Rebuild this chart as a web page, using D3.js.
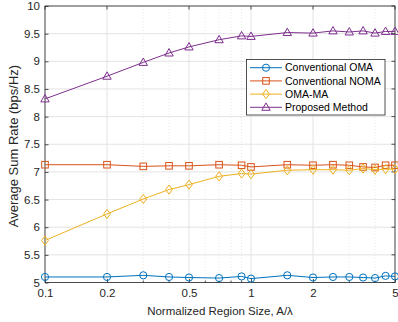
<!DOCTYPE html>
<html>
<head>
<meta charset="utf-8">
<script src="https://cdn.jsdelivr.net/npm/d3@7"></script>
<style>
  html, body { margin: 0; padding: 0; background: #fff; }
  svg { display: block; font-family: "Liberation Sans", Arial, sans-serif; }
</style>
</head>
<body>
<svg id="chart" width="398" height="322"></svg>
<script>
// Data
const regionSize = [0.1, 0.2, 0.3, 0.4, 0.5, 0.7, 0.9, 1, 1.5, 2, 2.5, 3, 3.5, 4, 4.5, 5];
const omaRate      = [5.10, 5.10, 5.13, 5.10, 5.09, 5.08, 5.11, 5.07, 5.13, 5.09, 5.10, 5.10, 5.09, 5.08, 5.12, 5.11];
const nomaRate     = [7.13, 7.13, 7.10, 7.11, 7.11, 7.13, 7.12, 7.09, 7.13, 7.12, 7.13, 7.12, 7.09, 7.08, 7.12, 7.12];
const omaMaRate    = [5.76, 6.24, 6.51, 6.68, 6.77, 6.92, 6.97, 6.96, 7.03, 7.04, 7.04, 7.03, 7.06, 7.04, 7.05, 7.05];
const proposedRate = [8.32, 8.73, 8.98, 9.15, 9.26, 9.39, 9.46, 9.45, 9.52, 9.51, 9.55, 9.53, 9.55, 9.51, 9.54, 9.54];
const seriesNames  = ['Conventional OMA', 'Conventional NOMA', 'OMA-MA', 'Proposed Method'];
const xTicks = [0.1, 0.2, 0.5, 1, 2, 5];
const xMinorTicks = [0.3, 0.4, 0.6, 0.7, 0.8, 0.9, 3, 4];
const yTicks = d3.range(5, 10.01, 0.5);

const series = [
  { name: seriesNames[0], values: omaRate, color: '#0072BD', marker: 'circle' },
  { name: seriesNames[1], values: nomaRate, color: '#D95319', marker: 'square' },
  { name: seriesNames[2], values: omaMaRate, color: '#EDB120', marker: 'diamond' },
  { name: seriesNames[3], values: proposedRate, color: '#7E2F8E', marker: 'triangle' }
];

const plot = { left: 45, right: 395, top: 6, bottom: 282.5 };
const svg = d3.select('#chart');

const x = d3.scaleLog().domain([0.1, 5]).range([plot.left, plot.right]);
const y = d3.scaleLinear().domain([5, 10]).range([plot.bottom, plot.top]);

// grid
const grid = svg.append('g');
grid.selectAll('line.minor')
  .data(xMinorTicks)
  .enter().append('line')
  .attr('x1', d => x(d)).attr('x2', d => x(d))
  .attr('y1', plot.top).attr('y2', plot.bottom)
  .attr('stroke', '#d9d9d9').attr('stroke-width', 0.6)
  .attr('stroke-dasharray', '1,2');
grid.selectAll('line.vx')
  .data(xTicks)
  .enter().append('line')
  .attr('x1', d => x(d)).attr('x2', d => x(d))
  .attr('y1', plot.top).attr('y2', plot.bottom)
  .attr('stroke', '#e3e3e3').attr('stroke-width', 1);
grid.selectAll('line.hy')
  .data(yTicks)
  .enter().append('line')
  .attr('x1', plot.left).attr('x2', plot.right)
  .attr('y1', d => y(d)).attr('y2', d => y(d))
  .attr('stroke', '#e3e3e3').attr('stroke-width', 1);

// axes
const axisColor = '#262626';
const xAxis = d3.axisBottom(x).tickValues(xTicks).tickFormat(d3.format('')).tickSizeInner(-3.5).tickSizeOuter(0).tickPadding(6);
const yAxis = d3.axisLeft(y).tickValues(yTicks).tickFormat(d => d3.format('')(d)).tickSizeInner(-3.5).tickSizeOuter(0).tickPadding(5);

const gx = svg.append('g').attr('transform', `translate(0,${plot.bottom})`).call(xAxis);
const gy = svg.append('g').attr('transform', `translate(${plot.left},0)`).call(yAxis);
[gx, gy].forEach(g => {
  g.select('.domain').remove();
  g.selectAll('line').attr('stroke', axisColor).attr('stroke-width', 0.8);
  g.selectAll('text').attr('fill', axisColor).style('font-size', '11.5px');
});

// minor ticks on x
svg.append('g').selectAll('line')
  .data(xMinorTicks)
  .enter().append('line')
  .attr('x1', d => x(d)).attr('x2', d => x(d))
  .attr('y1', plot.bottom).attr('y2', plot.bottom - 2)
  .attr('stroke', axisColor).attr('stroke-width', 0.8);

// mirrored ticks on right / top
svg.append('g').selectAll('line')
  .data(yTicks)
  .enter().append('line')
  .attr('x1', plot.right).attr('x2', plot.right - 3.5)
  .attr('y1', d => y(d)).attr('y2', d => y(d))
  .attr('stroke', axisColor).attr('stroke-width', 0.8);
svg.append('g').selectAll('line')
  .data(xTicks)
  .enter().append('line')
  .attr('x1', d => x(d)).attr('x2', d => x(d))
  .attr('y1', plot.top).attr('y2', plot.top + 3.5)
  .attr('stroke', axisColor).attr('stroke-width', 0.8);

// box
svg.append('rect')
  .attr('x', plot.left).attr('y', plot.top)
  .attr('width', plot.right - plot.left).attr('height', plot.bottom - plot.top)
  .attr('fill', 'none').attr('stroke', axisColor).attr('stroke-width', 0.8);

// markers
function drawMarker(g, type, cx, cy, color) {
  if (type === 'circle') {
    g.append('circle').attr('cx', cx).attr('cy', cy).attr('r', 3.6);
  } else if (type === 'square') {
    g.append('rect').attr('x', cx - 3.3).attr('y', cy - 3.3).attr('width', 6.6).attr('height', 6.6);
  } else if (type === 'diamond') {
    g.append('path').attr('d', `M${cx},${cy - 4.6}L${cx + 3.4},${cy}L${cx},${cy + 4.6}L${cx - 3.4},${cy}Z`);
  } else {
    g.append('path').attr('d', `M${cx},${cy - 4.4}L${cx + 4.2},${cy + 3}L${cx - 4.2},${cy + 3}Z`);
  }
  g.selectAll('*').attr('fill', 'none').attr('stroke', color).attr('stroke-width', 1);
}

const line = d3.line().x(d => x(d[0])).y(d => y(d[1]));

series.forEach(s => {
  const pts = regionSize.map((v, i) => [v, s.values[i]]);
  svg.append('path')
    .datum(pts)
    .attr('d', line)
    .attr('fill', 'none')
    .attr('stroke', s.color)
    .attr('stroke-width', 1);
  pts.forEach(p => {
    const g = svg.append('g');
    drawMarker(g, s.marker, x(p[0]), y(p[1]), s.color);
  });
});

// legend
const legend = svg.append('g');
legend.append('rect')
  .attr('x', 246.5).attr('y', 59.5).attr('width', 138.5).attr('height', 55.5)
  .attr('fill', '#fff').attr('stroke', axisColor).attr('stroke-width', 0.8);
series.forEach((s, i) => {
  const ly = 67.7 + i * 13.2;
  legend.append('line')
    .attr('x1', 250).attr('x2', 282)
    .attr('y1', ly).attr('y2', ly)
    .attr('stroke', s.color).attr('stroke-width', 1);
  drawMarker(legend.append('g'), s.marker, 266, ly, s.color);
  legend.append('text')
    .attr('x', 285).attr('y', ly)
    .attr('dy', '0.35em')
    .attr('fill', '#000')
    .style('font-size', '10.5px')
    .text(s.name);
});

// axis labels
svg.append('text')
  .attr('x', (plot.left + plot.right) / 2).attr('y', 315)
  .attr('text-anchor', 'middle')
  .attr('fill', axisColor)
  .style('font-size', '11.5px')
  .text('Normalized Region Size, A/λ');
svg.append('text')
  .attr('transform', 'translate(18,146) rotate(-90)')
  .attr('text-anchor', 'middle')
  .attr('fill', axisColor)
  .style('font-size', '13px')
  .text('Average Sum Rate (bps/Hz)');
</script>
</body>
</html>
